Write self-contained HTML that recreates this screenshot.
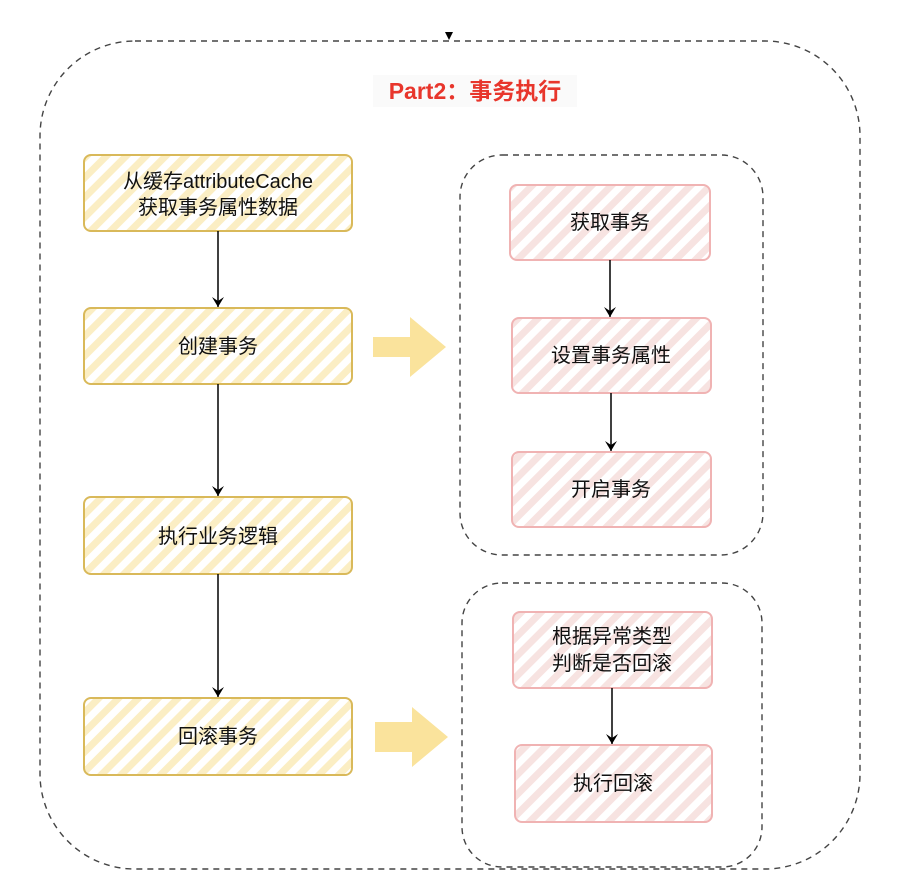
<!DOCTYPE html>
<html><head><meta charset="utf-8"><style>
html,body{margin:0;padding:0;background:#fff;}
svg{display:block;}
text{font-family:"Liberation Sans","Noto Sans CJK SC",sans-serif;}
</style></head><body>
<svg width="903" height="882" viewBox="0 0 903 882" xmlns="http://www.w3.org/2000/svg">
<defs>
<pattern id="hy" patternUnits="userSpaceOnUse" width="14" height="14" patternTransform="rotate(45)">
<rect width="14" height="14" fill="#fff"/><rect x="0" y="0" width="7" height="14" fill="#fbeec4"/>
</pattern>
<pattern id="hp" patternUnits="userSpaceOnUse" width="14" height="14" patternTransform="rotate(45)">
<rect width="14" height="14" fill="#fff"/><rect x="0" y="0" width="7" height="14" fill="#f7e3e1"/>
</pattern>
<marker id="ah" markerWidth="12" markerHeight="12" refX="10" refY="6" orient="auto" markerUnits="userSpaceOnUse">
<path d="M0,0 L10,6 L0,12 L4,6 Z" fill="#000"/>
</marker>
</defs>
<rect x="40" y="41" width="820" height="828" rx="95" fill="none" stroke="#444" stroke-width="1.4" stroke-dasharray="6,5"/>
<path d="M445,32 L453,32 L449,40 Z" fill="#000"/>
<rect x="373" y="75" width="204" height="32" fill="#fafafa"/>
<text x="475" y="99" text-anchor="middle" font-size="23" font-weight="bold" fill="#e8362c">Part2：事务执行</text>

<g stroke="#d9b95a" stroke-width="2">
<rect x="84" y="155" width="268" height="76" rx="7" fill="url(#hy)"/>
<rect x="84" y="308" width="268" height="76" rx="7" fill="url(#hy)"/>
<rect x="84" y="497" width="268" height="77" rx="7" fill="url(#hy)"/>
<rect x="84" y="698" width="268" height="77" rx="7" fill="url(#hy)"/>
</g>
<g font-size="20" fill="#111" text-anchor="middle">
<text x="218" y="188">从缓存attributeCache</text>
<text x="218" y="214">获取事务属性数据</text>
<text x="218" y="353">创建事务</text>
<text x="218" y="543">执行业务逻辑</text>
<text x="218" y="743">回滚事务</text>
</g>
<g stroke="#000" stroke-width="1.5" marker-end="url(#ah)">
<line x1="218" y1="231" x2="218" y2="307"/>
<line x1="218" y1="384" x2="218" y2="496"/>
<line x1="218" y1="574" x2="218" y2="697"/>
</g>

<path d="M373,337 L410,337 L410,317 L446,347 L410,377 L410,357 L373,357 Z" fill="#fae39c"/>
<path d="M375,722 L412,722 L412,707 L448,737 L412,767 L412,752 L375,752 Z" fill="#fae39c"/>

<rect x="460" y="155" width="303" height="400" rx="42" fill="none" stroke="#444" stroke-width="1.4" stroke-dasharray="6,5"/>
<rect x="462" y="583" width="300" height="284" rx="40" fill="none" stroke="#444" stroke-width="1.4" stroke-dasharray="6,5"/>

<g stroke="#f0b3b3" stroke-width="2">
<rect x="510" y="185" width="200" height="75" rx="7" fill="url(#hp)"/>
<rect x="512" y="318" width="199" height="75" rx="7" fill="url(#hp)"/>
<rect x="512" y="452" width="199" height="75" rx="7" fill="url(#hp)"/>
<rect x="513" y="612" width="199" height="76" rx="7" fill="url(#hp)"/>
<rect x="515" y="745" width="197" height="77" rx="7" fill="url(#hp)"/>
</g>
<g font-size="20" fill="#111" text-anchor="middle">
<text x="610" y="229">获取事务</text>
<text x="611" y="362">设置事务属性</text>
<text x="611" y="496">开启事务</text>
<text x="612" y="643">根据异常类型</text>
<text x="612" y="670">判断是否回滚</text>
<text x="613" y="790">执行回滚</text>
</g>
<g stroke="#000" stroke-width="1.5" marker-end="url(#ah)">
<line x1="610" y1="260" x2="610" y2="317"/>
<line x1="611" y1="393" x2="611" y2="451"/>
<line x1="612" y1="688" x2="612" y2="744"/>
</g>
</svg>
</body></html>
